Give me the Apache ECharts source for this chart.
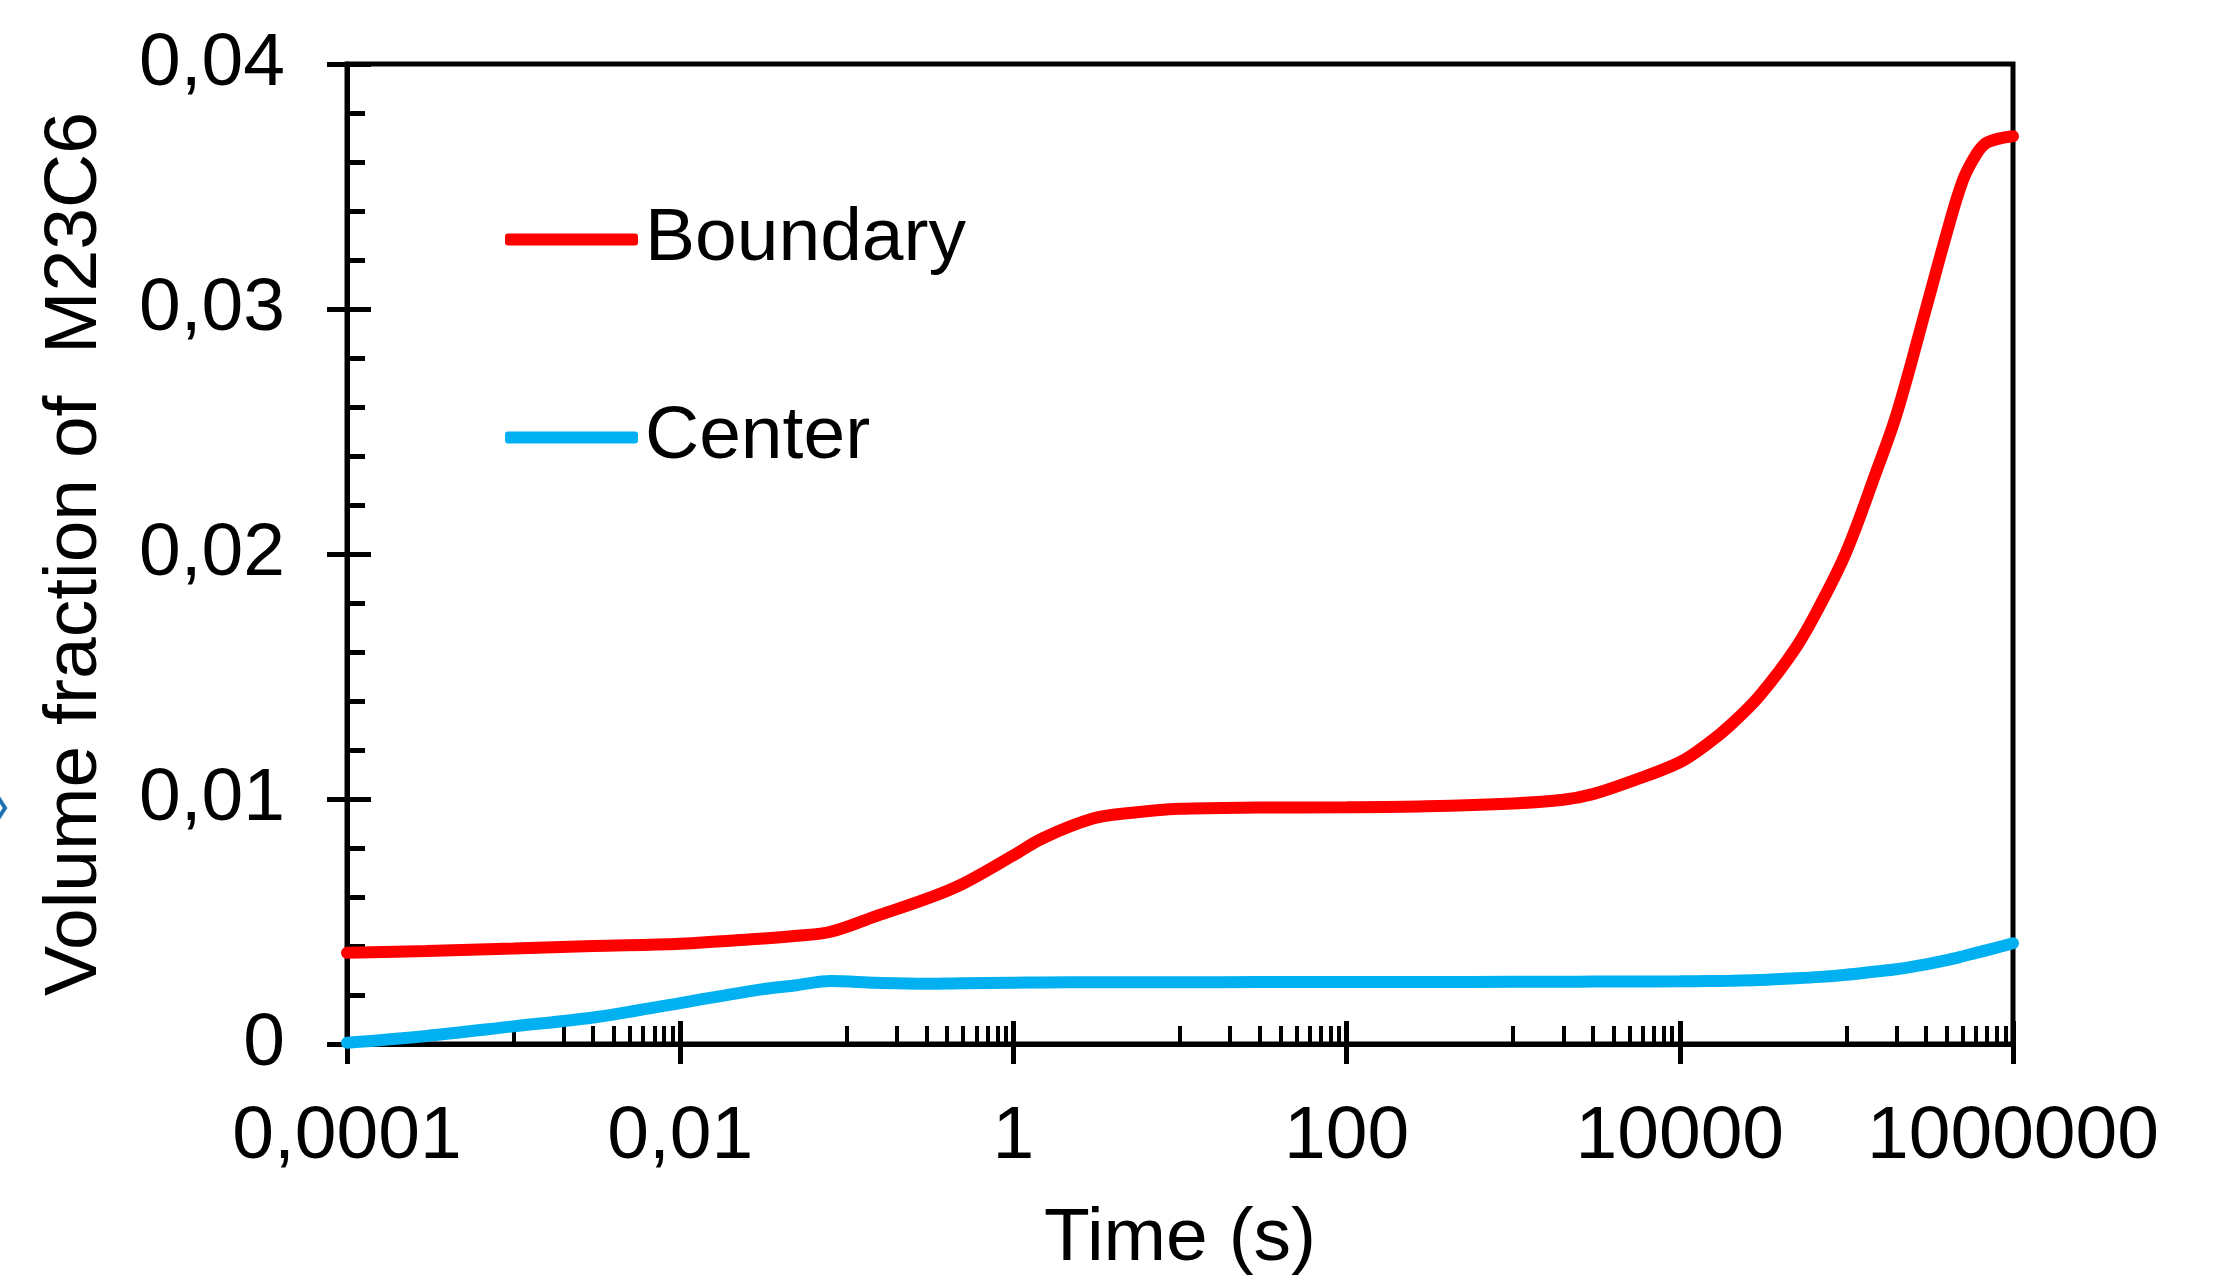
<!DOCTYPE html>
<html>
<head>
<meta charset="utf-8">
<script src="https://cdn.jsdelivr.net/npm/echarts@6/dist/echarts.min.js"></script>
<style>
  html, body { margin: 0; padding: 0; background: #ffffff; }
  #chart { width: 2223px; height: 1282px; }
</style>
</head>
<body>
<div id="chart"></div>
<script>
// Annealing time (s)
const timeSeconds = [
  0.0001, 0.0003, 0.001, 0.003, 0.01, 0.03, 0.05, 0.08, 0.15, 0.3, 0.5,
  1, 1.5, 3, 5, 10, 30, 100, 300, 1000, 2000, 3000, 5000,
  10000, 15000, 20000, 30000, 50000, 70000, 100000, 150000, 200000,
  300000, 400000, 500000, 600000, 700000, 1000000
];

// Volume fraction of M23C6 at the grain boundary
const boundaryFraction = [
  0.00372, 0.00380, 0.00390, 0.00400, 0.00409, 0.00430, 0.00442, 0.00458, 0.00522, 0.00592, 0.00655,
  0.00770, 0.00840, 0.00920, 0.00943, 0.00960, 0.00965, 0.00966, 0.00970, 0.00982, 0.00997, 0.01020, 0.01070,
  0.01150, 0.01230, 0.01300, 0.01420, 0.01620, 0.01795, 0.02010, 0.02330, 0.02570,
  0.03000, 0.03310, 0.03525, 0.03630, 0.03680, 0.03705
];

// Volume fraction of M23C6 in the grain center
const centerFraction = [
  0.00005, 0.00033, 0.00072, 0.00108, 0.00167, 0.00222, 0.00240, 0.00257, 0.00250, 0.00246, 0.00248,
  0.00250, 0.00251, 0.00252, 0.00252, 0.00252, 0.00253, 0.00253, 0.00253, 0.00254, 0.00254, 0.00255, 0.00255,
  0.00256, 0.00257, 0.00258, 0.00261, 0.00268, 0.00274, 0.00283, 0.00296, 0.00305,
  0.00325, 0.00342, 0.00358, 0.00372, 0.00383, 0.00411
];

const seriesNames = ['Boundary', 'Center'];
const seriesColors = ['#ff0000', '#00b0f0'];

const xTickValues = [0.0001, 0.01, 1, 100, 10000, 1000000];
const xTickLabels = ['0,0001', '0,01', '1', '100', '10000', '1000000'];
const yTickValues = [0, 0.01, 0.02, 0.03, 0.04];
const yTickLabels = ['0', '0,01', '0,02', '0,03', '0,04'];

// Minor ticks: 1..9 times the middle decade of every two-decade step
const xMinorTicks = [];
for (let k = 0; k < xTickValues.length - 1; k++) {
  const base = xTickValues[k] * 10;
  for (let m = 1; m <= 9; m++) xMinorTicks.push(+(base * m).toPrecision(6));
}

const FONT = '"Liberation Sans", Arial, Helvetica, sans-serif';
const BLACK = '#000000';
const AXIS_W = 5;
const LINE_W = 12;

function nearestLabel(values, labels, v) {
  let best = 0, bestD = Infinity;
  values.forEach((tv, i) => {
    const d = Math.abs(Math.log10(Math.max(tv, 1e-12)) - Math.log10(Math.max(v, 1e-12)));
    if (d < bestD) { bestD = d; best = i; }
  });
  return labels[best];
}

const xCommon = {
  type: 'log',
  logBase: 100,
  min: 0.0001,
  max: 1000000,
  position: 'bottom',
  splitLine: { show: false },
  minorSplitLine: { show: false }
};

const yCommon = {
  type: 'value',
  min: 0,
  max: 0.04,
  interval: 0.01,
  position: 'left',
  splitLine: { show: false }
};

const legendText = { fontSize: 75, lineHeight: 75, color: BLACK, fontFamily: FONT, padding: [0, 0, 0, 2] };

const chart = echarts.init(document.getElementById('chart'), null, { renderer: 'canvas' });

chart.setOption({
  backgroundColor: '#ffffff',
  animation: false,
  textStyle: { fontFamily: FONT },
  grid: {
    left: 347, right: 210, top: 64, bottom: 237,
    show: true,
    borderColor: BLACK,
    borderWidth: AXIS_W,
    backgroundColor: 'transparent'
  },
  legend: [
    {
      data: [seriesNames[0]],
      left: 500, top: 197,
      icon: 'roundRect',
      itemWidth: 133, itemHeight: LINE_W, itemGap: 0,
      textStyle: legendText,
      selectedMode: false
    },
    {
      data: [seriesNames[1]],
      left: 500, top: 395,
      icon: 'roundRect',
      itemWidth: 133, itemHeight: LINE_W, itemGap: 0,
      textStyle: legendText,
      selectedMode: false
    }
  ],
  xAxis: [
    Object.assign({}, xCommon, {
      name: 'Time (s)',
      nameLocation: 'middle',
      nameGap: 158,
      nameTextStyle: { fontSize: 75, color: BLACK, fontFamily: FONT },
      axisLine: { show: true, lineStyle: { color: BLACK, width: AXIS_W } },
      axisTick: { show: true, inside: true, length: 23, lineStyle: { color: BLACK, width: AXIS_W } },
      axisLabel: {
        show: true, margin: 56, fontSize: 75, color: BLACK, fontFamily: FONT,
        formatter: v => nearestLabel(xTickValues, xTickLabels, v)
      }
    }),
    Object.assign({}, xCommon, {
      axisLine: { show: false },
      axisTick: { show: true, inside: false, length: 20, lineStyle: { color: BLACK, width: AXIS_W } },
      axisLabel: { show: false }
    }),
    Object.assign({}, xCommon, {
      axisLine: { show: false },
      axisTick: { show: true, inside: true, length: 18, customValues: xMinorTicks, lineStyle: { color: BLACK, width: 4 } },
      axisLabel: { show: false }
    })
  ],
  yAxis: [
    Object.assign({}, yCommon, {
      name: 'Volume fraction of  M23C6',
      nameLocation: 'middle',
      nameGap: 234,
      nameTextStyle: { fontSize: 75, color: BLACK, fontFamily: FONT },
      axisLine: { show: true, lineStyle: { color: BLACK, width: AXIS_W } },
      axisTick: { show: true, inside: true, length: 24, lineStyle: { color: BLACK, width: AXIS_W } },
      minorTick: { show: true, splitNumber: 5, length: 18, lineStyle: { color: BLACK, width: AXIS_W } },
      axisLabel: {
        show: true, margin: 62, fontSize: 75, color: BLACK, fontFamily: FONT,
        formatter: v => nearestLabel(yTickValues.map(t => t + 1), yTickLabels, v + 1)
      }
    }),
    Object.assign({}, yCommon, {
      axisLine: { show: false },
      axisTick: { show: true, inside: false, length: 20, lineStyle: { color: BLACK, width: AXIS_W } },
      axisLabel: { show: false }
    })
  ],
  series: [
    {
      name: seriesNames[0],
      type: 'line',
      xAxisIndex: 0, yAxisIndex: 0,
      data: timeSeconds.map((t, i) => [t, boundaryFraction[i]]),
      smooth: 0.35,
      showSymbol: false,
      symbol: 'none',
      color: seriesColors[0],
      lineStyle: { color: seriesColors[0], width: LINE_W, cap: 'round' },
      z: 5
    },
    {
      name: seriesNames[1],
      type: 'line',
      xAxisIndex: 0, yAxisIndex: 0,
      data: timeSeconds.map((t, i) => [t, centerFraction[i]]),
      smooth: 0.35,
      showSymbol: false,
      symbol: 'none',
      color: seriesColors[1],
      lineStyle: { color: seriesColors[1], width: LINE_W, cap: 'round' },
      z: 5
    }
  ],
  graphic: [
    {
      type: 'polyline',
      shape: { points: [[-2, 797], [5, 808], [-2, 819]] },
      style: { stroke: '#1f6fb2', lineWidth: 4, fill: null }
    }
  ]
});
</script>
</body>
</html>
